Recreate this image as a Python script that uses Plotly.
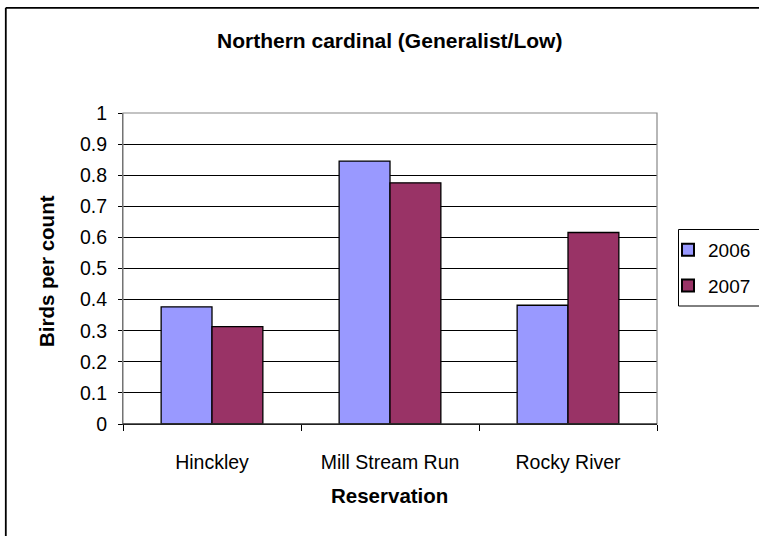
import plotly.graph_objects as go

categories = ["Hinckley", "Mill Stream Run", "Rocky River"]
series_names = ["2006", "2007"]
values_2006 = [0.377, 0.846, 0.382]
values_2007 = [0.313, 0.776, 0.616]
colors = ["#9999FF", "#993366"]
y_ticks = [0, 0.1, 0.2, 0.3, 0.4, 0.5, 0.6, 0.7, 0.8, 0.9, 1]

W, H = 759, 536
L, R, T, B = 123, 102, 113, 112
pw = W - L - R
ph = H - T - B

def px_x(p):
    return (p - L) / pw

def px_y(p):
    return (H - B - p) / ph

FONT = "Liberation Sans, Arial, sans-serif"

fig = go.Figure()
for i, (name, vals, col) in enumerate(zip(series_names, [values_2006, values_2007], colors)):
    fig.add_trace(go.Bar(
        x=categories, y=vals, name=name, legendgroup=f"g{i}",
        marker=dict(color=col, line=dict(color="black", width=1.3)),
    ))

fig.update_layout(
    width=W, height=H,
    margin=dict(l=L, r=R, t=T, b=B, autoexpand=False),
    paper_bgcolor="white", plot_bgcolor="white",
    barmode="group", bargap=1.5 / 3.5, bargroupgap=0,
    font=dict(family=FONT, size=19, color="black"),
    showlegend=True,
    legend=dict(
        x=px_x(668), y=px_y(231), xanchor="left", yanchor="top",
        xref="paper", yref="paper",
        bgcolor="rgba(0,0,0,0)", borderwidth=0,
        font=dict(family=FONT, size=19, color="black"),
        tracegroupgap=8, itemsizing="constant",
    ),
)

fig.update_xaxes(
    type="category",
    showline=True, linecolor="black", linewidth=1,
    ticks="outside", tickson="boundaries", ticklen=6, tickcolor="black",
    tickfont=dict(family=FONT, size=19.5),
    ticklabelstandoff=21,
    showgrid=False,
)
fig.update_yaxes(
    range=[0, 1.0005], tickvals=y_ticks,
    ticktext=[f"{v:g}" for v in y_ticks],
    showline=True, linecolor="#555555", linewidth=1,
    ticks="outside", ticklen=4, tickcolor="black",
    tickfont=dict(family=FONT, size=19.5),
    ticklabelstandoff=7,
    showgrid=True, gridcolor="black", gridwidth=1,
    zeroline=False,
)

# plot area border (gray)
fig.add_shape(type="rect", xref="paper", yref="paper", x0=0, x1=1, y0=0, y1=1,
              line=dict(color="#888888", width=1.2), fillcolor="rgba(0,0,0,0)", layer="above")
# bottom axis black
fig.add_shape(type="line", xref="paper", yref="paper", x0=0, x1=1, y0=0, y1=0,
              line=dict(color="black", width=1), layer="above")

def seg(x0, y0, x1, y1, width, color="black"):
    fig.add_shape(type="line", xref="paper", yref="paper",
                  x0=px_x(x0), y0=px_y(y0), x1=px_x(x1), y1=px_y(y1),
                  line=dict(color=color, width=width), layer="below")

# outer chart border: only left and top edges fall inside the frame
seg(5.8, 7.8, 759, 7.8, 1.8)
seg(5.8, 7.8, 5.8, 536, 1.8)
# legend box: right edge falls outside the frame
seg(678.5, 229.5, 759, 229.5, 1)
seg(678.5, 306, 759, 306, 1)
seg(678.5, 229.5, 678.5, 306, 1)

fig.add_annotation(text="<b>Northern cardinal (Generalist/Low)</b>", xref="paper", yref="paper",
                   x=px_x(389.5), y=px_y(40.5), xanchor="center", yanchor="middle",
                   showarrow=False, font=dict(family=FONT, size=21))
fig.add_annotation(text="<b>Reservation</b>", xref="paper", yref="paper",
                   x=px_x(389.5), y=px_y(496), xanchor="center", yanchor="middle",
                   showarrow=False, font=dict(family=FONT, size=20.5))
fig.add_annotation(text="<b>Birds per count</b>", xref="paper", yref="paper",
                   x=px_x(46), y=px_y(271), xanchor="center", yanchor="middle",
                   showarrow=False, textangle=-90, font=dict(family=FONT, size=20.5))

fig.write_html(
    "out.html",
    post_script=(
        "document.body.style.margin='0px';"
        "document.body.style.overflow='hidden';"
        "document.documentElement.style.overflow='hidden';"
    ),
    config={"displayModeBar": False},
)
